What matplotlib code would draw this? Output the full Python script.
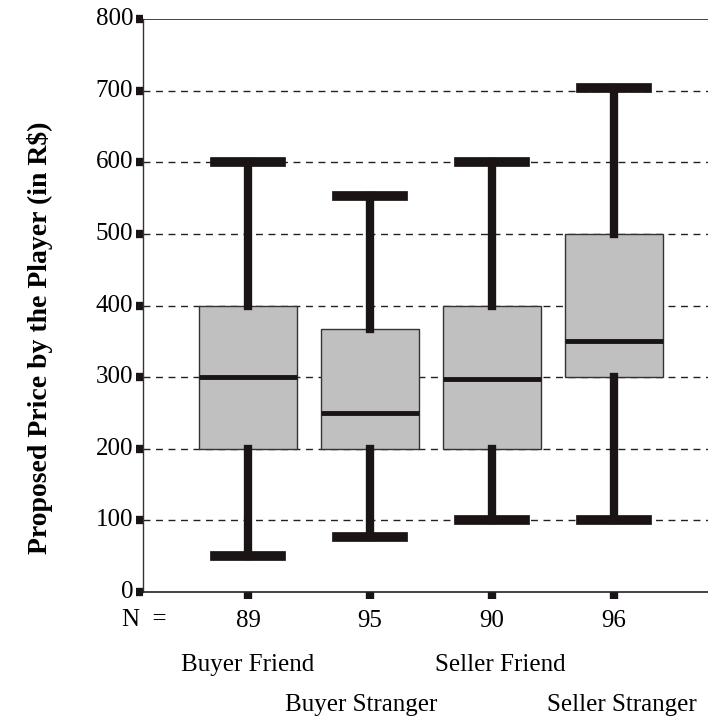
import matplotlib.pyplot as plt

# box statistics
groups = ['Buyer Friend', 'Buyer Stranger', 'Seller Friend', 'Seller Stranger']
counts = [89, 95, 90, 96]
whislo = [50, 77, 100, 100]
q1 = [200, 200, 200, 300]
medians = [300, 250, 298, 350]
q3 = [400, 367, 400, 500]
whishi = [600, 553, 600, 703]
yticks = [0, 100, 200, 300, 400, 500, 600, 700, 800]

plt.rcParams['font.family'] = ['Liberation Serif', 'DejaVu Serif']

dpi = 100
fig = plt.figure(figsize=(708 / dpi, 719 / dpi), dpi=dpi)
ax = fig.add_axes([143 / 708, 1 - 592 / 719, 1 - 143 / 708, (592 - 19) / 719])

stats = []
for i in range(len(groups)):
    stats.append({'label': str(counts[i]), 'whislo': whislo[i], 'q1': q1[i],
                  'med': medians[i], 'q3': q3[i], 'whishi': whishi[i], 'fliers': []})

pos = [1, 2, 3, 4]
ax.bxp(stats, positions=pos, widths=0.8, patch_artist=True, showfliers=False,
       boxprops=dict(facecolor='#c0c0c0', edgecolor='#333333', linewidth=1),
       medianprops=dict(color='#1a1414', linewidth=3.5),
       whiskerprops=dict(color='#1a1414', linewidth=6),
       capprops=dict(color='#1a1414', linewidth=7),
       capwidths=0.54, zorder=3)

ax.set_xlim(0.14, 4.77)
ax.set_ylim(0, 800)

for y in yticks[1:-1]:
    ax.axhline(y, color='#222222', linestyle=(0, (5, 4)), linewidth=1, zorder=1)
ax.axhline(800, color='#222222', linewidth=1.2, zorder=1)

for s in ['top', 'right']:
    ax.spines[s].set_visible(False)
ax.spines['left'].set_color('#333333')
ax.spines['bottom'].set_color('#222222')
ax.spines['left'].set_linewidth(1)
ax.spines['bottom'].set_linewidth(1.2)

ax.set_yticks(yticks)
ax.set_yticklabels([str(v) for v in yticks], fontsize=18)
ax.set_xticks(pos)
ax.set_xticklabels([str(c) for c in counts], fontsize=18)
ax.tick_params(axis='both', direction='out', length=5, width=6, color='#1a1414')
ax.tick_params(axis='y', pad=2)
ax.tick_params(axis='x', pad=8)
for lab in ax.get_yticklabels():
    lab.set_verticalalignment('center')

fig.text(122 / 708, 1 - 620 / 719, 'N  =', fontsize=18, ha='left', va='center')

# category names staggered on two rows
rows = [665, 705, 665, 705]
xs = [248, 361, 500, 622]
for g, x, y in zip(groups, xs, rows):
    fig.text(x / 708, 1 - y / 719, g, fontsize=18, ha='center', va='center')

fig.text(40 / 708, 1 - 338 / 719, 'Proposed Price by the Player (in R$)',
         fontsize=20, fontweight='bold', rotation=90, ha='center', va='center')

fig.savefig('out.png', dpi=dpi)
